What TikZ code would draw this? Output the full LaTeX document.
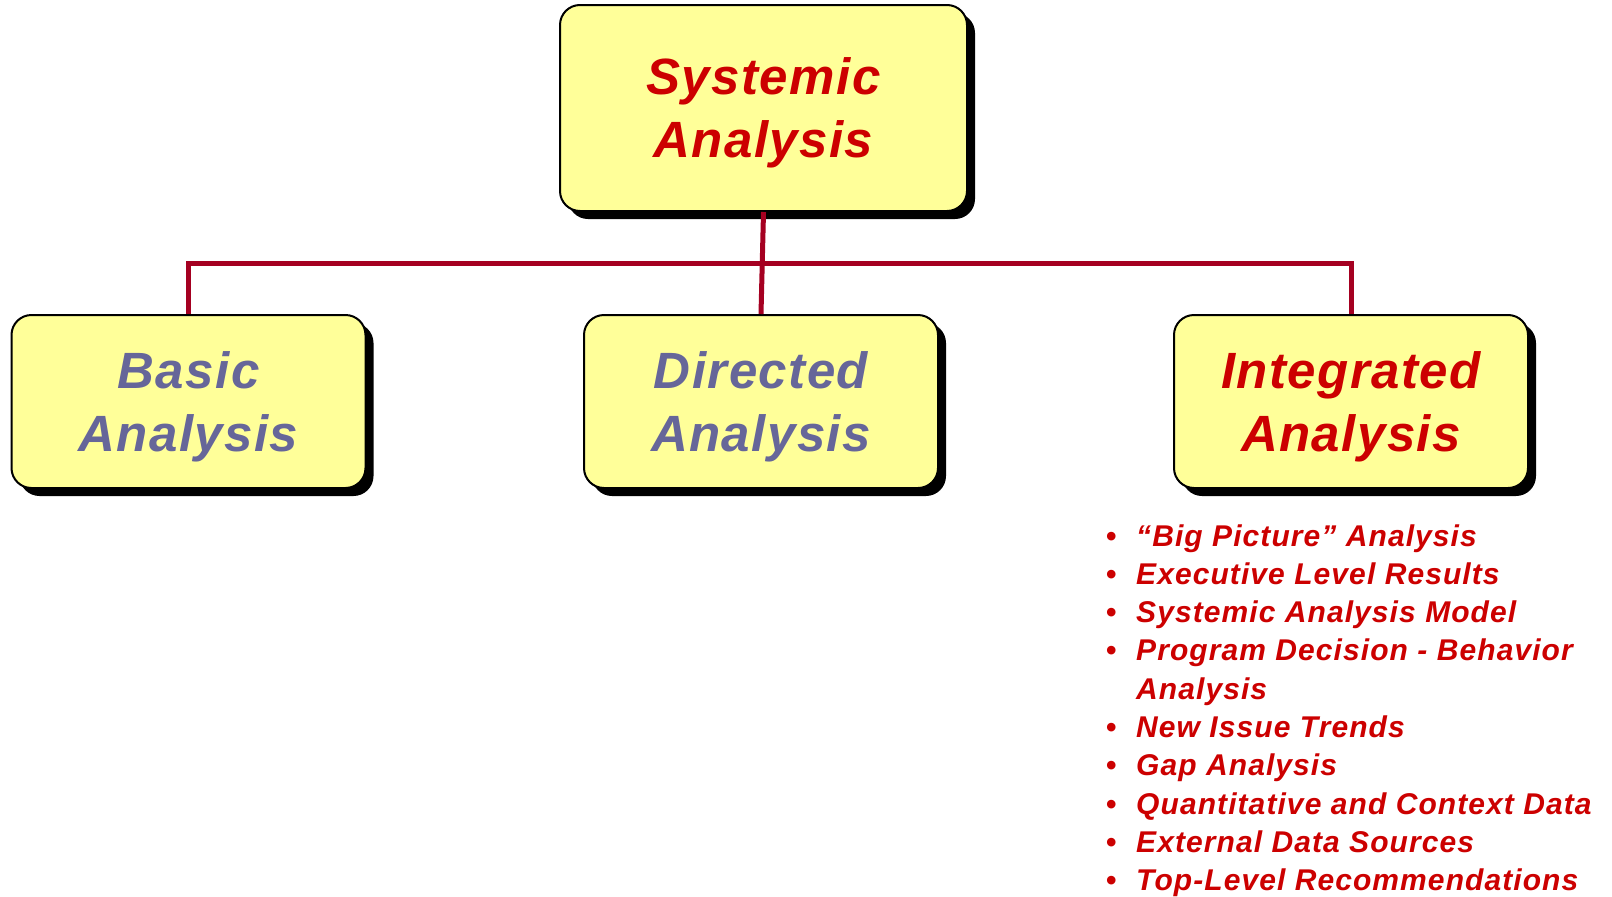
\documentclass[tikz,border=0pt]{standalone}
\usepackage{fontspec}
\setmainfont{Liberation Sans}
\newfontfamily\boxface[LetterSpace=2.8]{Liberation Sans}
\newfontfamily\listface[LetterSpace=3.6]{Liberation Sans}
\usetikzlibrary{shadows}
\definecolor{boxfill}{HTML}{FFFF99}
\definecolor{headred}{HTML}{CC0000}
\definecolor{plainblue}{HTML}{666699}
\definecolor{linkred}{HTML}{A50021}
\begin{document}
\begin{tikzpicture}[x=1pt,y=-1pt,
  box/.style={draw=black, line width=2pt, fill=boxfill, rounded corners=20pt,
    minimum width=354pt, minimum height=173pt, inner sep=0pt,
    align=center, text depth=-5pt,
    font=\fontsize{51}{63}\selectfont\boxface\bfseries\itshape,
    drop shadow={shadow xshift=8pt, shadow yshift=-8pt, fill=black, opacity=1}},
  link/.style={draw=linkred, line width=5pt},
  item/.style={anchor=base west, inner sep=0pt, text=headred,
    font=\fontsize{30}{38}\selectfont\listface\bfseries\itshape}]
  \useasboundingbox (0,0) rectangle (1612,897);

  % tree boxes
  \node[box, text=headred, minimum width=407pt, minimum height=206pt]
    (sys) at (763.5,108) {Systemic\\Analysis};
  \node[box, text=plainblue] (basic) at (188.5,401.5) {Basic\\Analysis};
  \node[box, text=plainblue] (directed) at (761,401.5) {Directed\\Analysis};
  \node[box, text=headred] (integ) at (1351,401.5) {Integrated\\Analysis};

  % connectors
  \coordinate (bar) at (763,263);
  \draw[link] (sys.south) -- (directed.north);
  \draw[link] (basic.north) |- (bar) -| (integ.north);

  % bullet list under the integrated box
  \newcommand{\bul}{\makebox[30pt][l]{\upshape\textbullet}}
  \node[item] (i1) at (1106,546) {\bul“Big Picture” Analysis};
  \node[item] (i2) at (1106,584.3) {\bul Executive Level Results};
  \node[item] (i3) at (1106,622.6) {\bul Systemic Analysis Model};
  \node[item] (i4) at (1106,660.9) {\bul Program Decision - Behavior};
  \node[item] (i5) at (1136,699.2) {Analysis};
  \node[item] (i6) at (1106,737.5) {\bul New Issue Trends};
  \node[item] (i7) at (1106,775.8) {\bul Gap Analysis};
  \node[item] (i8) at (1106,814.1) {\bul Quantitative and Context Data};
  \node[item] (i9) at (1106,852.4) {\bul External Data Sources};
  \node[item] (i10) at (1106,890.7) {\bul Top-Level Recommendations};
\end{tikzpicture}
\end{document}
